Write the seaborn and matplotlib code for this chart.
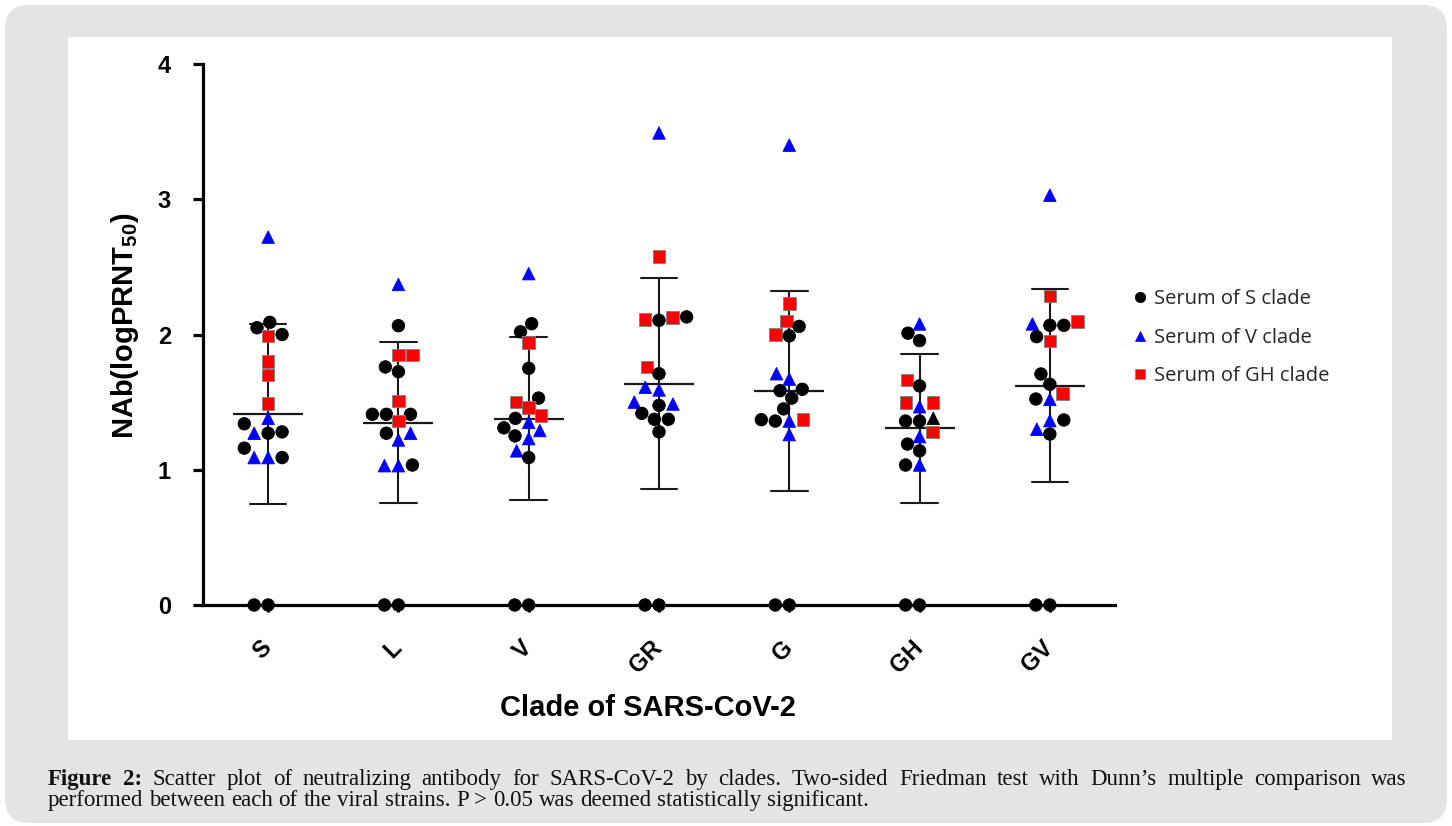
import numpy as np
import pandas as pd
import seaborn as sns
import matplotlib.pyplot as plt
from matplotlib.markers import MarkerStyle
from matplotlib.lines import Line2D
from matplotlib.patches import FancyBboxPatch, Rectangle
from matplotlib.transforms import IdentityTransform, ScaledTranslation

W, H = 1452, 826

clades = ["S", "L", "V", "GR", "G", "GH", "GV"]

# NAb (logPRNT50) per viral clade, with the serum group of every point
nab_S = [2.72, 2.09, 2.05, 2.00, 1.99, 1.80, 1.70, 1.49, 1.38, 1.27, 1.27, 1.28, 1.34, 1.16, 1.09, 1.09, 1.09, 0, 0]
ser_S = ["V", "S", "S", "S", "GH", "GH", "GH", "GH", "V", "V", "S", "S", "S", "S", "V", "V", "S", "S", "S"]

nab_L = [2.37, 2.065, 1.85, 1.85, 1.76, 1.725, 1.51, 1.41, 1.41, 1.41, 1.36, 1.27, 1.27, 1.22, 1.03, 1.03, 1.035, 0, 0]
ser_L = ["V", "S", "GH", "GH", "S", "S", "GH", "S", "S", "S", "GH", "V", "S", "V", "V", "V", "S", "S", "S"]

nab_V = [2.45, 2.08, 2.02, 1.94, 1.75, 1.53, 1.50, 1.46, 1.40, 1.38, 1.35, 1.31, 1.29, 1.25, 1.23, 1.14, 1.09, 0, 0]
ser_V = ["V", "S", "S", "GH", "S", "S", "GH", "GH", "GH", "S", "V", "S", "V", "S", "V", "V", "S", "S", "S"]

nab_GR = [3.49, 2.575, 2.127, 2.11, 2.105, 2.13, 1.76, 1.71, 1.59, 1.61, 1.50, 1.486, 1.476, 1.417, 1.373, 1.373, 1.28, 0, 0]
ser_GR = ["V", "GH", "GH", "GH", "S", "S", "GH", "S", "V", "V", "V", "V", "S", "S", "S", "S", "S", "S", "S"]

nab_G = [3.40, 2.23, 2.10, 2.06, 2.00, 1.99, 1.67, 1.71, 1.585, 1.595, 1.53, 1.45, 1.36, 1.36, 1.37, 1.37, 1.26, 0, 0]
ser_G = ["V", "GH", "GH", "S", "GH", "S", "V", "V", "S", "S", "S", "S", "V", "S", "GH", "S", "V", "S", "S"]

nab_GH = [2.078, 2.01, 1.955, 1.664, 1.62, 1.496, 1.496, 1.466, 1.38, 1.36, 1.36, 1.28, 1.245, 1.19, 1.14, 1.035, 1.035, 0, 0]
ser_GH = ["V", "S", "S", "GH", "S", "GH", "GH", "V", "V*", "S", "S", "GH", "V", "S", "S", "V", "S", "S", "S"]

nab_GV = [3.03, 2.285, 2.095, 2.078, 2.068, 2.068, 1.984, 1.952, 1.708, 1.632, 1.523, 1.52, 1.565, 1.363, 1.368, 1.30, 1.264, 0, 0]
ser_GV = ["V", "GH", "GH", "V", "S", "S", "S", "GH", "S", "S", "S", "V", "GH", "V", "S", "V", "S", "S", "S"]

# "V*" = the one triangle drawn in black in the GH column
serum_palette = {"S": "black", "V": "#0000ff", "GH": "#ff0000", "V*": "black"}
serum_marker = {"S": "o", "V": "^", "GH": "s", "V*": "^"}
serum_edge = {"S": "black", "V": "#0000ff", "GH": "#808080", "V*": "black"}
legend_keys = ["S", "V", "GH"]
legend_labels = ["Serum of S clade", "Serum of V clade", "Serum of GH clade"]

all_vals = [nab_S, nab_L, nab_V, nab_GR, nab_G, nab_GH, nab_GV]
all_sers = [ser_S, ser_L, ser_V, ser_GR, ser_G, ser_GH, ser_GV]
df = pd.concat([pd.DataFrame({"clade": c, "nab": v, "serum": s})
                for c, v, s in zip(clades, all_vals, all_sers)], ignore_index=True)

sns.set_theme(style="ticks")
plt.rcParams["font.family"] = ["Liberation Sans", "DejaVu Sans"]
plt.rcParams["mathtext.fontset"] = "custom"
plt.rcParams["mathtext.rm"] = "Liberation Sans:weight=bold"
plt.rcParams["mathtext.bf"] = "Liberation Sans:weight=bold"
plt.rcParams["mathtext.default"] = "bf"

fig = plt.figure(figsize=(W / 100, H / 100), dpi=100)
fig.patch.set_facecolor("white")
px = IdentityTransform()
fig.add_artist(FancyBboxPatch((5, 3), W - 10, H - 8, boxstyle="round,pad=0,rounding_size=24",
                              transform=px, facecolor="#e4e4e4", edgecolor="none", zorder=-3))
fig.add_artist(Rectangle((68, H - 740), 1392 - 68, 740 - 37, transform=px,
                         facecolor="white", edgecolor="none", zorder=-2))

ax = fig.add_axes([203 / W, 1 - 605 / H, (1115 - 203) / W, (605 - 64) / H])
ax.set_facecolor("white")

# mean +/- SD
sns.pointplot(data=df, x="clade", y="nab", order=clades, estimator="mean", errorbar="sd",
              color="#1a1a1a", markers="_", markersize=50, markeredgewidth=1.6,
              linestyle="none", capsize=0.28, err_kws={"linewidth": 1.5}, ax=ax, zorder=2)

n_before = len(ax.collections)
sns.swarmplot(data=df, x="clade", y="nab", hue="serum", order=clades, palette=serum_palette,
              size=9, legend=False, ax=ax, zorder=3, clip_on=False, linewidth=0.6)

# give each swarm point the marker of its serum group
paths = {k: MarkerStyle(m).get_path().transformed(MarkerStyle(m).get_transform())
         for k, m in serum_marker.items()}
for coll in ax.collections[n_before:]:
    idx = int(round(np.mean(coll.get_offsets()[:, 0])))
    sub = df[df["clade"] == clades[idx]]
    coll.set_paths([paths[s] for s in sub["serum"]])
    coll.set_edgecolor([serum_edge[s] for s in sub["serum"]])

ax.set_xlim(-0.5, len(clades) - 0.5)
ax.set_ylim(0, 4)
ax.set_yticks(range(5))
sns.despine(ax=ax)
for sp in ["left", "bottom"]:
    ax.spines[sp].set_linewidth(2.3)
    ax.spines[sp].set_color("black")

ax.set_xticks(range(len(clades)), clades, rotation=45, ha="right", va="center",
              rotation_mode="anchor", fontweight="bold", fontsize=17)
for lab in ax.get_xticklabels():
    lab.set_transform(lab.get_transform() + ScaledTranslation(-11 / 100, 0, fig.dpi_scale_trans))
for lab in ax.get_yticklabels():
    lab.set_fontweight("bold")
ax.tick_params(axis="y", length=7, width=2.3, pad=16, labelsize=17, color="black", labelcolor="black")
ax.tick_params(axis="x", length=5, width=2.3, pad=23, color="black", labelcolor="black")

ax.set_xlabel("Clade of SARS-CoV-2", fontsize=21, fontweight="bold", color="black")
ax.xaxis.set_label_coords((647.5 - 203) / 912, (605 - 708) / 541)
ax.xaxis.label.set_va("center")
ax.set_ylabel(r"NAb(logPRNT$_{50}$)", fontsize=21, fontweight="bold", color="black")
ax.yaxis.set_label_coords((125 - 203) / 912, (605 - 326) / 541)
ax.yaxis.label.set_va("center")

handles = [Line2D([], [], linestyle="none", marker=serum_marker[k], color=serum_palette[k],
                  markeredgecolor=serum_edge[k], markeredgewidth=0.5, markersize=7.5)
           for k in legend_keys]
fig.legend(handles, legend_labels, loc="upper left", bbox_to_anchor=(1122 / W, 1 - 281 / H),
           frameon=False, prop={"family": "Open Sans", "size": 14.5},
           handletextpad=0.2, labelspacing=0.92, handlelength=1.0, borderaxespad=0)

# caption, first line justified between the panel margins
renderer = fig.canvas.get_renderer()
cap_size = 16.5
cap_font = {"family": "Liberation Serif", "size": cap_size, "color": "#111111"}


def caption_line(words, y, x0, x1, justify):
    items = []
    for w, bold in words:
        t = fig.text(0, 1 - y / H, w, fontweight="bold" if bold else "normal", va="baseline", **cap_font)
        items.append((t, t.get_window_extent(renderer).width))
    total = sum(wd for _, wd in items)
    space = (x1 - x0 - total) / (len(items) - 1) if justify else 0.25 * cap_size * 100 / 72
    x = x0
    for t, wd in items:
        t.set_x(x / W)
        x += wd + space


line1 = "Scatter plot of neutralizing antibody for SARS-CoV-2 by clades. Two-sided Friedman test with Dunn\u2019s multiple comparison was"
line2 = "performed between each of the viral strains. P > 0.05 was deemed statistically significant."
caption_line([("Figure", True), ("2:", True)] + [(w, False) for w in line1.split()], 785, 48, 1407, True)
caption_line([(w, False) for w in line2.split()], 806, 48, 1407, False)

fig.savefig("out.png", dpi=100)
